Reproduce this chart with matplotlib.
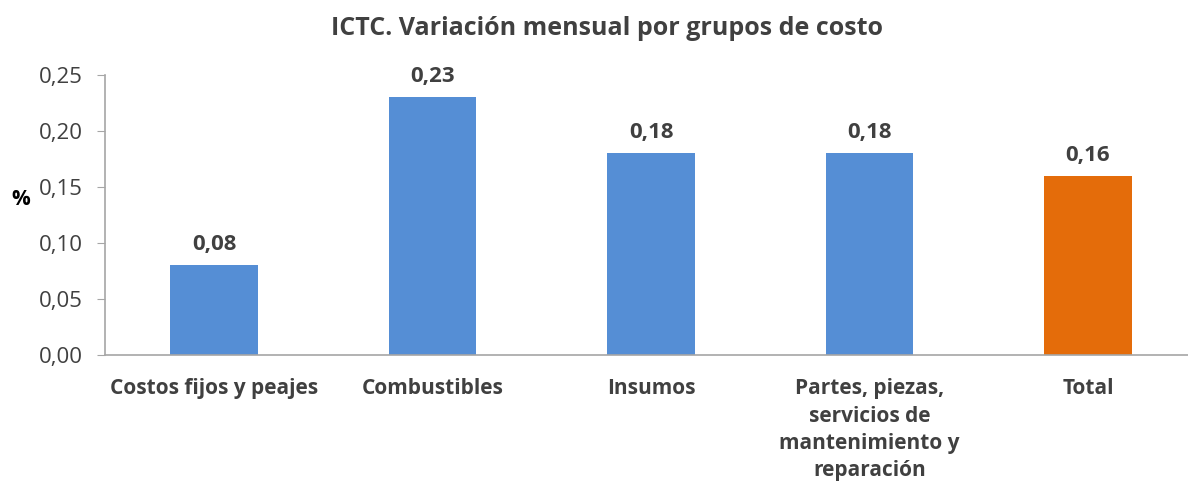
import matplotlib
matplotlib.use("Agg")
import matplotlib.pyplot as plt
import numpy as np

categories = [
    "Costos fijos y peajes",
    "Combustibles",
    "Insumos",
    "Partes, piezas,\nservicios de\nmantenimiento y\nreparación",
    "Total",
]
values = [0.08, 0.23, 0.18, 0.18, 0.16]
bar_colors = ["#558ed5", "#558ed5", "#558ed5", "#558ed5", "#e46c0a"]
yticks = [0.00, 0.05, 0.10, 0.15, 0.20, 0.25]

plt.rcParams["font.family"] = ["Open Sans", "DejaVu Sans"]

fig = plt.figure(figsize=(11.88, 4.91), dpi=100)
ax = fig.add_axes([0.0882, 0.278, 0.9196, 0.569])

x = np.arange(len(categories))
ax.bar(x, values, width=0.4, color=bar_colors)

for xi, v in zip(x, values):
    ax.text(xi, v + 0.009, f"{v:.2f}".replace(".", ","), ha="center", va="bottom",
            fontsize=16, fontweight="bold", color="#404040")

ax.set_xlim(-0.5, len(categories) - 0.5)
ax.set_ylim(0, 0.25)
ax.set_yticks(yticks)
ax.set_yticklabels([f"{t:.2f}".replace(".", ",") for t in yticks],
                   fontsize=16, color="#404040")
ax.set_xticks(x)
ax.set_xticklabels(categories, fontsize=15, fontweight="bold", color="#404040",
                   linespacing=1.4, va="top")
ax.tick_params(axis="x", length=0, pad=17)
ax.tick_params(axis="y", length=6, color="#a6a6a6", pad=10)

for side in ("top", "right"):
    ax.spines[side].set_visible(False)
for side in ("left", "bottom"):
    ax.spines[side].set_color("#a6a6a6")
    ax.spines[side].set_linewidth(1.2)

ax.set_ylabel("%", rotation=0, fontsize=15, fontweight="bold", color="#000000",
              va="center", ha="center")
ax.yaxis.set_label_coords(-0.077, 0.556)

fig.text(0.511, 0.928, "ICTC. Variación mensual por grupos de costo", ha="center",
         va="baseline", fontsize=18, fontweight="bold", color="#404040")

fig.savefig("out.png", dpi=100)
